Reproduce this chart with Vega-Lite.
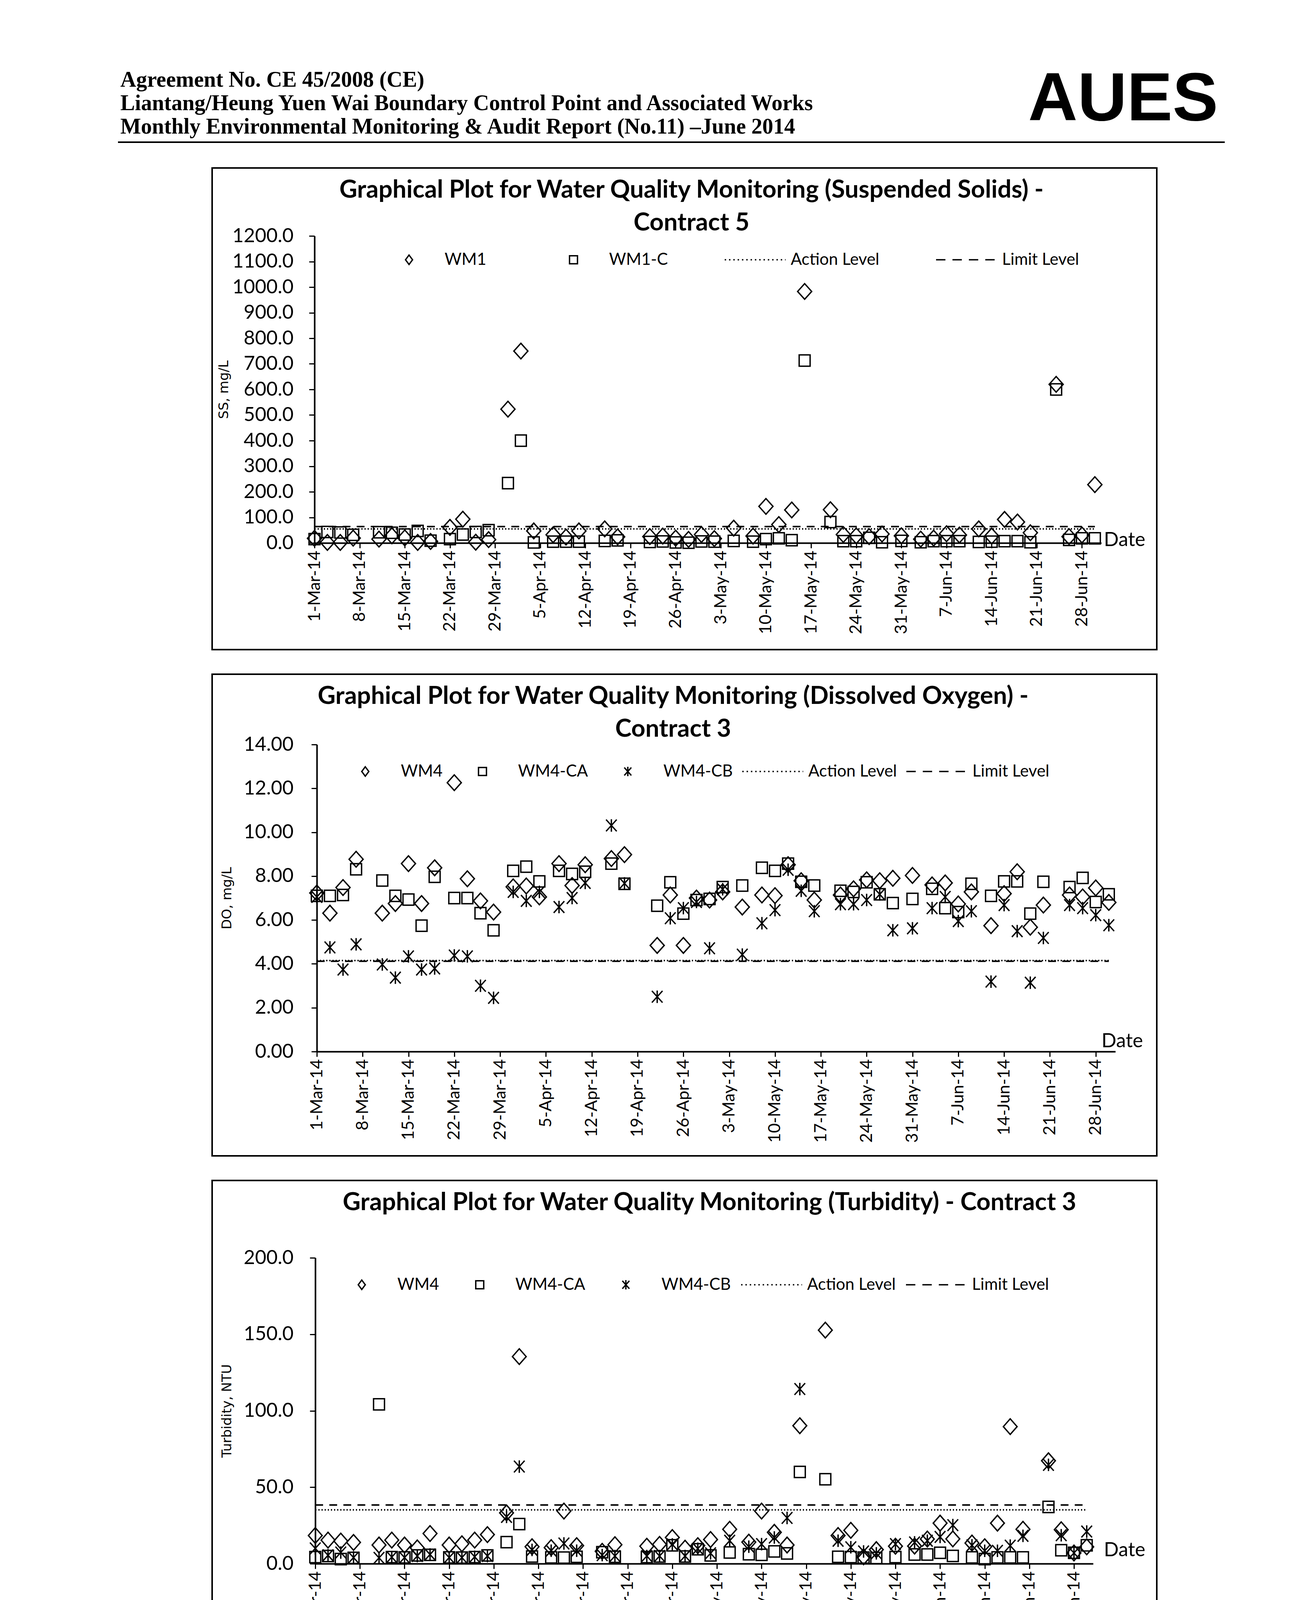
{
"$schema": "https://vega.github.io/schema/vega-lite/v6.json",
"background": "white",
"padding": {"left": 302, "top": 168, "right": 20, "bottom": 10},
"spacing": 62,
"config": {"view": {"stroke": null}, "title": {"color": "black"}, "axis": {"labelColor": "black", "titleColor": "black", "domainColor": "black", "tickColor": "black", "grid": false, "labelLimit": 0}, "legend": {"labelColor": "black"}},
"datasets": {
"ss_levels": [
{"date":"2014-03-01","series":"Action Level","value":55},{"date":"2014-06-30","series":"Action Level","value":55},
{"date":"2014-03-01","series":"Limit Level","value":64},{"date":"2014-06-30","series":"Limit Level","value":64}],
"do_levels": [
{"date":"2014-03-01","series":"Action Level","value":4.15},{"date":"2014-06-30","series":"Action Level","value":4.15},
{"date":"2014-03-01","series":"Limit Level","value":4.12},{"date":"2014-06-30","series":"Limit Level","value":4.12}],
"tb_levels": [
{"date":"2014-03-01","series":"Action Level","value":35.2},{"date":"2014-06-30","series":"Action Level","value":35.2},
{"date":"2014-03-01","series":"Limit Level","value":38.4},{"date":"2014-06-30","series":"Limit Level","value":38.4}],
"ss": [
{"date":"2014-03-01","station":"WM1","value":18},{"date":"2014-03-01","station":"WM1-C","value":15},
{"date":"2014-03-03","station":"WM1","value":2},{"date":"2014-03-03","station":"WM1-C","value":43},
{"date":"2014-03-05","station":"WM1","value":2},{"date":"2014-03-05","station":"WM1-C","value":41},
{"date":"2014-03-07","station":"WM1","value":19},{"date":"2014-03-07","station":"WM1-C","value":32},
{"date":"2014-03-11","station":"WM1","value":15},{"date":"2014-03-11","station":"WM1-C","value":42},
{"date":"2014-03-13","station":"WM1","value":28},{"date":"2014-03-13","station":"WM1-C","value":40},
{"date":"2014-03-15","station":"WM1","value":20},{"date":"2014-03-15","station":"WM1-C","value":33},
{"date":"2014-03-17","station":"WM1","value":2},{"date":"2014-03-17","station":"WM1-C","value":47},
{"date":"2014-03-19","station":"WM1","value":6},{"date":"2014-03-19","station":"WM1-C","value":9},
{"date":"2014-03-22","station":"WM1","value":61},{"date":"2014-03-22","station":"WM1-C","value":15},
{"date":"2014-03-24","station":"WM1","value":93},{"date":"2014-03-24","station":"WM1-C","value":33},
{"date":"2014-03-26","station":"WM1","value":3},{"date":"2014-03-26","station":"WM1-C","value":43},
{"date":"2014-03-28","station":"WM1","value":13},{"date":"2014-03-28","station":"WM1-C","value":50},
{"date":"2014-03-31","station":"WM1","value":523},{"date":"2014-03-31","station":"WM1-C","value":234},
{"date":"2014-04-02","station":"WM1","value":750},{"date":"2014-04-02","station":"WM1-C","value":400},
{"date":"2014-04-04","station":"WM1","value":47},{"date":"2014-04-04","station":"WM1-C","value":2},
{"date":"2014-04-07","station":"WM1","value":32},{"date":"2014-04-07","station":"WM1-C","value":5},
{"date":"2014-04-09","station":"WM1","value":23},{"date":"2014-04-09","station":"WM1-C","value":5},
{"date":"2014-04-11","station":"WM1","value":47},{"date":"2014-04-11","station":"WM1-C","value":5},
{"date":"2014-04-15","station":"WM1","value":55},{"date":"2014-04-15","station":"WM1-C","value":8},
{"date":"2014-04-17","station":"WM1","value":24},{"date":"2014-04-17","station":"WM1-C","value":10},
{"date":"2014-04-22","station":"WM1","value":25},{"date":"2014-04-22","station":"WM1-C","value":4},
{"date":"2014-04-24","station":"WM1","value":27},{"date":"2014-04-24","station":"WM1-C","value":6},
{"date":"2014-04-26","station":"WM1","value":19},{"date":"2014-04-26","station":"WM1-C","value":2},
{"date":"2014-04-28","station":"WM1","value":14},{"date":"2014-04-28","station":"WM1-C","value":1},
{"date":"2014-04-30","station":"WM1","value":33},{"date":"2014-04-30","station":"WM1-C","value":6},
{"date":"2014-05-02","station":"WM1","value":17},{"date":"2014-05-02","station":"WM1-C","value":5},
{"date":"2014-05-05","station":"WM1","value":58},{"date":"2014-05-05","station":"WM1-C","value":8},
{"date":"2014-05-08","station":"WM1","value":27},{"date":"2014-05-08","station":"WM1-C","value":5},
{"date":"2014-05-10","station":"WM1","value":143},{"date":"2014-05-10","station":"WM1-C","value":15},
{"date":"2014-05-12","station":"WM1","value":72},{"date":"2014-05-12","station":"WM1-C","value":18},
{"date":"2014-05-14","station":"WM1","value":129},{"date":"2014-05-14","station":"WM1-C","value":11},
{"date":"2014-05-16","station":"WM1","value":983},{"date":"2014-05-16","station":"WM1-C","value":713},
{"date":"2014-05-20","station":"WM1","value":130},{"date":"2014-05-20","station":"WM1-C","value":82},
{"date":"2014-05-22","station":"WM1","value":33},{"date":"2014-05-22","station":"WM1-C","value":7},
{"date":"2014-05-24","station":"WM1","value":28},{"date":"2014-05-24","station":"WM1-C","value":7},
{"date":"2014-05-26","station":"WM1","value":25},{"date":"2014-05-26","station":"WM1-C","value":20},
{"date":"2014-05-28","station":"WM1","value":35},{"date":"2014-05-28","station":"WM1-C","value":3},
{"date":"2014-05-31","station":"WM1","value":28},{"date":"2014-05-31","station":"WM1-C","value":8},
{"date":"2014-06-03","station":"WM1","value":15},{"date":"2014-06-03","station":"WM1-C","value":3},
{"date":"2014-06-05","station":"WM1","value":19},{"date":"2014-06-05","station":"WM1-C","value":7},
{"date":"2014-06-07","station":"WM1","value":36},{"date":"2014-06-07","station":"WM1-C","value":7},
{"date":"2014-06-09","station":"WM1","value":31},{"date":"2014-06-09","station":"WM1-C","value":7},
{"date":"2014-06-12","station":"WM1","value":55},{"date":"2014-06-12","station":"WM1-C","value":4},
{"date":"2014-06-14","station":"WM1","value":27},{"date":"2014-06-14","station":"WM1-C","value":5},
{"date":"2014-06-16","station":"WM1","value":92},{"date":"2014-06-16","station":"WM1-C","value":7},
{"date":"2014-06-18","station":"WM1","value":82},{"date":"2014-06-18","station":"WM1-C","value":7},
{"date":"2014-06-20","station":"WM1","value":40},{"date":"2014-06-20","station":"WM1-C","value":3},
{"date":"2014-06-24","station":"WM1","value":620},{"date":"2014-06-24","station":"WM1-C","value":600},
{"date":"2014-06-26","station":"WM1","value":25},{"date":"2014-06-26","station":"WM1-C","value":12},
{"date":"2014-06-28","station":"WM1","value":31},{"date":"2014-06-28","station":"WM1-C","value":18},
{"date":"2014-06-30","station":"WM1","value":228},{"date":"2014-06-30","station":"WM1-C","value":18}],
"do": [
{"date":"2014-03-01","station":"WM4","value":7.23},{"date":"2014-03-01","station":"WM4-CA","value":7.1},{"date":"2014-03-01","station":"WM4-CB","value":7.05},
{"date":"2014-03-03","station":"WM4","value":6.31},{"date":"2014-03-03","station":"WM4-CA","value":7.1},{"date":"2014-03-03","station":"WM4-CB","value":4.75},
{"date":"2014-03-05","station":"WM4","value":7.48},{"date":"2014-03-05","station":"WM4-CA","value":7.14},{"date":"2014-03-05","station":"WM4-CB","value":3.74},
{"date":"2014-03-07","station":"WM4","value":8.77},{"date":"2014-03-07","station":"WM4-CA","value":8.31},{"date":"2014-03-07","station":"WM4-CB","value":4.89},
{"date":"2014-03-11","station":"WM4","value":6.31},{"date":"2014-03-11","station":"WM4-CA","value":7.8},{"date":"2014-03-11","station":"WM4-CB","value":3.97},
{"date":"2014-03-13","station":"WM4","value":6.75},{"date":"2014-03-13","station":"WM4-CA","value":7.1},{"date":"2014-03-13","station":"WM4-CB","value":3.37},
{"date":"2014-03-15","station":"WM4","value":8.57},{"date":"2014-03-15","station":"WM4-CA","value":6.93},{"date":"2014-03-15","station":"WM4-CB","value":4.34},
{"date":"2014-03-17","station":"WM4","value":6.75},{"date":"2014-03-17","station":"WM4-CA","value":5.74},{"date":"2014-03-17","station":"WM4-CB","value":3.74},
{"date":"2014-03-19","station":"WM4","value":8.38},{"date":"2014-03-19","station":"WM4-CA","value":7.97},{"date":"2014-03-19","station":"WM4-CB","value":3.79},
{"date":"2014-03-22","station":"WM4","value":12.26},{"date":"2014-03-22","station":"WM4-CA","value":7.0},{"date":"2014-03-22","station":"WM4-CB","value":4.38},
{"date":"2014-03-24","station":"WM4","value":7.88},{"date":"2014-03-24","station":"WM4-CA","value":7.0},{"date":"2014-03-24","station":"WM4-CB","value":4.34},
{"date":"2014-03-26","station":"WM4","value":6.87},{"date":"2014-03-26","station":"WM4-CA","value":6.31},{"date":"2014-03-26","station":"WM4-CB","value":3.0},
{"date":"2014-03-28","station":"WM4","value":6.36},{"date":"2014-03-28","station":"WM4-CA","value":5.53},{"date":"2014-03-28","station":"WM4-CB","value":2.45},
{"date":"2014-03-31","station":"WM4","value":7.51},{"date":"2014-03-31","station":"WM4-CA","value":8.24},{"date":"2014-03-31","station":"WM4-CB","value":7.28},
{"date":"2014-04-02","station":"WM4","value":7.55},{"date":"2014-04-02","station":"WM4-CA","value":8.43},{"date":"2014-04-02","station":"WM4-CB","value":6.87},
{"date":"2014-04-04","station":"WM4","value":7.05},{"date":"2014-04-04","station":"WM4-CA","value":7.76},{"date":"2014-04-04","station":"WM4-CB","value":7.28},
{"date":"2014-04-07","station":"WM4","value":8.57},{"date":"2014-04-07","station":"WM4-CA","value":8.24},{"date":"2014-04-07","station":"WM4-CB","value":6.59},
{"date":"2014-04-09","station":"WM4","value":7.57},{"date":"2014-04-09","station":"WM4-CA","value":8.1},{"date":"2014-04-09","station":"WM4-CB","value":7.0},
{"date":"2014-04-11","station":"WM4","value":8.52},{"date":"2014-04-11","station":"WM4-CA","value":8.2},{"date":"2014-04-11","station":"WM4-CB","value":7.69},
{"date":"2014-04-15","station":"WM4","value":8.8},{"date":"2014-04-15","station":"WM4-CA","value":8.57},{"date":"2014-04-15","station":"WM4-CB","value":10.31},
{"date":"2014-04-17","station":"WM4","value":8.98},{"date":"2014-04-17","station":"WM4-CA","value":7.65},{"date":"2014-04-17","station":"WM4-CB","value":7.67},
{"date":"2014-04-22","station":"WM4","value":4.84},{"date":"2014-04-22","station":"WM4-CA","value":6.65},{"date":"2014-04-22","station":"WM4-CB","value":2.5},
{"date":"2014-04-24","station":"WM4","value":7.14},{"date":"2014-04-24","station":"WM4-CA","value":7.72},{"date":"2014-04-24","station":"WM4-CB","value":6.08},
{"date":"2014-04-26","station":"WM4","value":4.84},{"date":"2014-04-26","station":"WM4-CA","value":6.29},{"date":"2014-04-26","station":"WM4-CB","value":6.54},
{"date":"2014-04-28","station":"WM4","value":7.0},{"date":"2014-04-28","station":"WM4-CA","value":6.91},{"date":"2014-04-28","station":"WM4-CB","value":6.82},
{"date":"2014-04-30","station":"WM4","value":6.91},{"date":"2014-04-30","station":"WM4-CA","value":6.96},{"date":"2014-04-30","station":"WM4-CB","value":4.71},
{"date":"2014-05-02","station":"WM4","value":7.28},{"date":"2014-05-02","station":"WM4-CA","value":7.5},{"date":"2014-05-02","station":"WM4-CB","value":7.4},
{"date":"2014-05-05","station":"WM4","value":6.59},{"date":"2014-05-05","station":"WM4-CA","value":7.57},{"date":"2014-05-05","station":"WM4-CB","value":4.42},
{"date":"2014-05-08","station":"WM4","value":7.14},{"date":"2014-05-08","station":"WM4-CA","value":8.38},{"date":"2014-05-08","station":"WM4-CB","value":5.85},
{"date":"2014-05-10","station":"WM4","value":7.11},{"date":"2014-05-10","station":"WM4-CA","value":8.24},{"date":"2014-05-10","station":"WM4-CB","value":6.45},
{"date":"2014-05-12","station":"WM4","value":8.52},{"date":"2014-05-12","station":"WM4-CA","value":8.57},{"date":"2014-05-12","station":"WM4-CB","value":8.29},
{"date":"2014-05-14","station":"WM4","value":7.79},{"date":"2014-05-14","station":"WM4-CA","value":7.74},{"date":"2014-05-14","station":"WM4-CB","value":7.33},
{"date":"2014-05-16","station":"WM4","value":6.91},{"date":"2014-05-16","station":"WM4-CA","value":7.57},{"date":"2014-05-16","station":"WM4-CB","value":6.4},
{"date":"2014-05-20","station":"WM4","value":7.14},{"date":"2014-05-20","station":"WM4-CA","value":7.33},{"date":"2014-05-20","station":"WM4-CB","value":6.72},
{"date":"2014-05-22","station":"WM4","value":7.42},{"date":"2014-05-22","station":"WM4-CA","value":7.28},{"date":"2014-05-22","station":"WM4-CB","value":6.72},
{"date":"2014-05-24","station":"WM4","value":7.83},{"date":"2014-05-24","station":"WM4-CA","value":7.72},{"date":"2014-05-24","station":"WM4-CB","value":6.91},
{"date":"2014-05-26","station":"WM4","value":7.79},{"date":"2014-05-26","station":"WM4-CA","value":7.17},{"date":"2014-05-26","station":"WM4-CB","value":7.17},
{"date":"2014-05-28","station":"WM4","value":7.9},{"date":"2014-05-28","station":"WM4-CA","value":6.77},{"date":"2014-05-28","station":"WM4-CB","value":5.53},
{"date":"2014-05-31","station":"WM4","value":8.03},{"date":"2014-05-31","station":"WM4-CA","value":6.96},{"date":"2014-05-31","station":"WM4-CB","value":5.62},
{"date":"2014-06-03","station":"WM4","value":7.6},{"date":"2014-06-03","station":"WM4-CA","value":7.42},{"date":"2014-06-03","station":"WM4-CB","value":6.54},
{"date":"2014-06-05","station":"WM4","value":7.69},{"date":"2014-06-05","station":"WM4-CA","value":6.54},{"date":"2014-06-05","station":"WM4-CB","value":7.05},
{"date":"2014-06-07","station":"WM4","value":6.73},{"date":"2014-06-07","station":"WM4-CA","value":6.36},{"date":"2014-06-07","station":"WM4-CB","value":5.95},
{"date":"2014-06-09","station":"WM4","value":7.28},{"date":"2014-06-09","station":"WM4-CA","value":7.65},{"date":"2014-06-09","station":"WM4-CB","value":6.4},
{"date":"2014-06-12","station":"WM4","value":5.74},{"date":"2014-06-12","station":"WM4-CA","value":7.1},{"date":"2014-06-12","station":"WM4-CB","value":3.19},
{"date":"2014-06-14","station":"WM4","value":7.2},{"date":"2014-06-14","station":"WM4-CA","value":7.76},{"date":"2014-06-14","station":"WM4-CB","value":6.68},
{"date":"2014-06-16","station":"WM4","value":8.2},{"date":"2014-06-16","station":"WM4-CA","value":7.76},{"date":"2014-06-16","station":"WM4-CB","value":5.49},
{"date":"2014-06-18","station":"WM4","value":5.67},{"date":"2014-06-18","station":"WM4-CA","value":6.29},{"date":"2014-06-18","station":"WM4-CB","value":3.14},
{"date":"2014-06-20","station":"WM4","value":6.68},{"date":"2014-06-20","station":"WM4-CA","value":7.74},{"date":"2014-06-20","station":"WM4-CB","value":5.18},
{"date":"2014-06-24","station":"WM4","value":7.14},{"date":"2014-06-24","station":"WM4-CA","value":7.5},{"date":"2014-06-24","station":"WM4-CB","value":6.68},
{"date":"2014-06-26","station":"WM4","value":7.05},{"date":"2014-06-26","station":"WM4-CA","value":7.92},{"date":"2014-06-26","station":"WM4-CB","value":6.54},
{"date":"2014-06-28","station":"WM4","value":7.46},{"date":"2014-06-28","station":"WM4-CA","value":6.82},{"date":"2014-06-28","station":"WM4-CB","value":6.22},
{"date":"2014-06-30","station":"WM4","value":6.8},{"date":"2014-06-30","station":"WM4-CA","value":7.17},{"date":"2014-06-30","station":"WM4-CB","value":5.76}],
"tb": [
{"date":"2014-03-01","station":"WM4","value":18.4},{"date":"2014-03-01","station":"WM4-CA","value":4.3},{"date":"2014-03-01","station":"WM4-CB","value":10},
{"date":"2014-03-03","station":"WM4","value":15.4},{"date":"2014-03-03","station":"WM4-CA","value":5},{"date":"2014-03-03","station":"WM4-CB","value":5.5},
{"date":"2014-03-05","station":"WM4","value":14.8},{"date":"2014-03-05","station":"WM4-CA","value":3},{"date":"2014-03-05","station":"WM4-CB","value":7.3},
{"date":"2014-03-07","station":"WM4","value":13.9},{"date":"2014-03-07","station":"WM4-CA","value":3.8},{"date":"2014-03-07","station":"WM4-CB","value":4},
{"date":"2014-03-11","station":"WM4","value":12.2},{"date":"2014-03-11","station":"WM4-CA","value":104.2},{"date":"2014-03-11","station":"WM4-CB","value":3.8},
{"date":"2014-03-13","station":"WM4","value":15.4},{"date":"2014-03-13","station":"WM4-CA","value":4.3},{"date":"2014-03-13","station":"WM4-CB","value":4.3},
{"date":"2014-03-15","station":"WM4","value":12.2},{"date":"2014-03-15","station":"WM4-CA","value":4.1},{"date":"2014-03-15","station":"WM4-CB","value":4},
{"date":"2014-03-17","station":"WM4","value":10.3},{"date":"2014-03-17","station":"WM4-CA","value":5.4},{"date":"2014-03-17","station":"WM4-CB","value":5},
{"date":"2014-03-19","station":"WM4","value":19.7},{"date":"2014-03-19","station":"WM4-CA","value":5.8},{"date":"2014-03-19","station":"WM4-CB","value":6},
{"date":"2014-03-22","station":"WM4","value":12.2},{"date":"2014-03-22","station":"WM4-CA","value":4.1},{"date":"2014-03-22","station":"WM4-CB","value":4},
{"date":"2014-03-24","station":"WM4","value":13},{"date":"2014-03-24","station":"WM4-CA","value":4},{"date":"2014-03-24","station":"WM4-CB","value":4},
{"date":"2014-03-26","station":"WM4","value":15.4},{"date":"2014-03-26","station":"WM4-CA","value":4.3},{"date":"2014-03-26","station":"WM4-CB","value":4.5},
{"date":"2014-03-28","station":"WM4","value":19},{"date":"2014-03-28","station":"WM4-CA","value":5.4},{"date":"2014-03-28","station":"WM4-CB","value":5},
{"date":"2014-03-31","station":"WM4","value":33.2},{"date":"2014-03-31","station":"WM4-CA","value":14.1},{"date":"2014-03-31","station":"WM4-CB","value":30.6},
{"date":"2014-04-02","station":"WM4","value":135.4},{"date":"2014-04-02","station":"WM4-CA","value":25.9},{"date":"2014-04-02","station":"WM4-CB","value":63.5},
{"date":"2014-04-04","station":"WM4","value":11.1},{"date":"2014-04-04","station":"WM4-CA","value":4.7},{"date":"2014-04-04","station":"WM4-CB","value":9},
{"date":"2014-04-07","station":"WM4","value":10.5},{"date":"2014-04-07","station":"WM4-CA","value":4.1},{"date":"2014-04-07","station":"WM4-CB","value":8.5},
{"date":"2014-04-09","station":"WM4","value":34.4},{"date":"2014-04-09","station":"WM4-CA","value":4},{"date":"2014-04-09","station":"WM4-CB","value":13.2},
{"date":"2014-04-11","station":"WM4","value":11.8},{"date":"2014-04-11","station":"WM4-CA","value":4.5},{"date":"2014-04-11","station":"WM4-CB","value":8.5},
{"date":"2014-04-15","station":"WM4","value":8.1},{"date":"2014-04-15","station":"WM4-CA","value":7.5},{"date":"2014-04-15","station":"WM4-CB","value":5.6},
{"date":"2014-04-17","station":"WM4","value":12.4},{"date":"2014-04-17","station":"WM4-CA","value":4.5},{"date":"2014-04-17","station":"WM4-CB","value":5},
{"date":"2014-04-22","station":"WM4","value":11.4},{"date":"2014-04-22","station":"WM4-CA","value":4.3},{"date":"2014-04-22","station":"WM4-CB","value":5},
{"date":"2014-04-24","station":"WM4","value":12.6},{"date":"2014-04-24","station":"WM4-CA","value":4.7},{"date":"2014-04-24","station":"WM4-CB","value":5},
{"date":"2014-04-26","station":"WM4","value":17.1},{"date":"2014-04-26","station":"WM4-CA","value":12},{"date":"2014-04-26","station":"WM4-CB","value":12.6},
{"date":"2014-04-28","station":"WM4","value":10.1},{"date":"2014-04-28","station":"WM4-CA","value":4.7},{"date":"2014-04-28","station":"WM4-CB","value":5},
{"date":"2014-04-30","station":"WM4","value":11.8},{"date":"2014-04-30","station":"WM4-CA","value":9.4},{"date":"2014-04-30","station":"WM4-CB","value":9.8},
{"date":"2014-05-02","station":"WM4","value":15.8},{"date":"2014-05-02","station":"WM4-CA","value":5.4},{"date":"2014-05-02","station":"WM4-CB","value":6.8},
{"date":"2014-05-05","station":"WM4","value":22.5},{"date":"2014-05-05","station":"WM4-CA","value":7.3},{"date":"2014-05-05","station":"WM4-CB","value":15},
{"date":"2014-05-08","station":"WM4","value":14.1},{"date":"2014-05-08","station":"WM4-CA","value":6.2},{"date":"2014-05-08","station":"WM4-CB","value":11.1},
{"date":"2014-05-10","station":"WM4","value":34.4},{"date":"2014-05-10","station":"WM4-CA","value":5.8},{"date":"2014-05-10","station":"WM4-CB","value":12.8},
{"date":"2014-05-12","station":"WM4","value":20.5},{"date":"2014-05-12","station":"WM4-CA","value":8},{"date":"2014-05-12","station":"WM4-CB","value":17.1},
{"date":"2014-05-14","station":"WM4","value":12.2},{"date":"2014-05-14","station":"WM4-CA","value":6.7},{"date":"2014-05-14","station":"WM4-CB","value":29.9},
{"date":"2014-05-16","station":"WM4","value":90.2},{"date":"2014-05-16","station":"WM4-CA","value":60},{"date":"2014-05-16","station":"WM4-CB","value":114.2},
{"date":"2014-05-20","station":"WM4","value":152.7},{"date":"2014-05-20","station":"WM4-CA","value":55.2},
{"date":"2014-05-22","station":"WM4","value":18.4},{"date":"2014-05-22","station":"WM4-CA","value":4.5},{"date":"2014-05-22","station":"WM4-CB","value":15},
{"date":"2014-05-24","station":"WM4","value":21.8},{"date":"2014-05-24","station":"WM4-CA","value":4.3},{"date":"2014-05-24","station":"WM4-CB","value":10.7},
{"date":"2014-05-26","station":"WM4","value":4.5},{"date":"2014-05-26","station":"WM4-CA","value":4},{"date":"2014-05-26","station":"WM4-CB","value":8},
{"date":"2014-05-28","station":"WM4","value":9.2},{"date":"2014-05-28","station":"WM4-CA","value":3.7},{"date":"2014-05-28","station":"WM4-CB","value":6.8},
{"date":"2014-05-31","station":"WM4","value":11.4},{"date":"2014-05-31","station":"WM4-CA","value":4.3},{"date":"2014-05-31","station":"WM4-CB","value":12.8},
{"date":"2014-06-03","station":"WM4","value":11.5},{"date":"2014-06-03","station":"WM4-CA","value":6},{"date":"2014-06-03","station":"WM4-CB","value":13.9},
{"date":"2014-06-05","station":"WM4","value":16.1},{"date":"2014-06-05","station":"WM4-CA","value":6},{"date":"2014-06-05","station":"WM4-CB","value":15},
{"date":"2014-06-07","station":"WM4","value":26.5},{"date":"2014-06-07","station":"WM4-CA","value":7.1},{"date":"2014-06-07","station":"WM4-CB","value":17.5},
{"date":"2014-06-09","station":"WM4","value":16.2},{"date":"2014-06-09","station":"WM4-CA","value":5.1},{"date":"2014-06-09","station":"WM4-CB","value":25.2},
{"date":"2014-06-12","station":"WM4","value":13.5},{"date":"2014-06-12","station":"WM4-CA","value":4.1},{"date":"2014-06-12","station":"WM4-CB","value":12},
{"date":"2014-06-14","station":"WM4","value":11.1},{"date":"2014-06-14","station":"WM4-CA","value":3},{"date":"2014-06-14","station":"WM4-CB","value":8.4},
{"date":"2014-06-16","station":"WM4","value":26.5},{"date":"2014-06-16","station":"WM4-CA","value":4.1},{"date":"2014-06-16","station":"WM4-CB","value":8.4},
{"date":"2014-06-18","station":"WM4","value":89.6},{"date":"2014-06-18","station":"WM4-CA","value":4.1},{"date":"2014-06-18","station":"WM4-CB","value":11.8},
{"date":"2014-06-20","station":"WM4","value":22.5},{"date":"2014-06-20","station":"WM4-CA","value":4.1},{"date":"2014-06-20","station":"WM4-CB","value":18.2},
{"date":"2014-06-24","station":"WM4","value":67.3},{"date":"2014-06-24","station":"WM4-CA","value":37.1},{"date":"2014-06-24","station":"WM4-CB","value":64.6},
{"date":"2014-06-26","station":"WM4","value":22.2},{"date":"2014-06-26","station":"WM4-CA","value":8.8},{"date":"2014-06-26","station":"WM4-CB","value":18.6},
{"date":"2014-06-28","station":"WM4","value":7},{"date":"2014-06-28","station":"WM4-CA","value":7.1},{"date":"2014-06-28","station":"WM4-CB","value":7},
{"date":"2014-06-30","station":"WM4","value":11},{"date":"2014-06-30","station":"WM4-CA","value":12},{"date":"2014-06-30","station":"WM4-CB","value":21}]
},
"vconcat": [
{
 "hconcat": [
  {"width": 2000, "height": 4, "data": {"values": []}, "mark": "point", "view": {"fill": "black", "stroke": null},
   "title": {"text": ["Agreement No. CE 45/2008 (CE)", "Liantang/Heung Yuen Wai Boundary Control Point and Associated Works", "Monthly Environmental Monitoring & Audit Report (No.11) \u2013June 2014"], "anchor": "start", "frame": "group", "font": "Liberation Serif", "fontSize": 56, "fontWeight": "bold", "lineHeight": 60, "offset": 8, "dx": 6, "color": "black"}},
  {"width": 833, "height": 4, "data": {"values": []}, "mark": "point", "view": {"fill": "black", "stroke": null},
   "title": {"text": "AUES", "anchor": "end", "frame": "group", "font": "Liberation Sans", "fontSize": 175, "fontWeight": "bold", "offset": 17, "dx": -17, "color": "black"}}
 ],
 "spacing": 0, "bounds": "flush"
},
{
 "hconcat": [
  {"width": 1, "height": 1, "data": {"values": []}, "mark": "point"},
  {
   "vconcat": [
    {
     "width": 2418, "height": 1233,
     "view": {"stroke": "black", "strokeWidth": 4},
     "title": {"text": ["Graphical Plot for Water Quality Monitoring (Suspended Solids) -", "Contract 5"], "font": "Lato", "fontSize": 63, "fontWeight": "bold", "lineHeight": 84, "anchor": "middle", "frame": "group", "offset": -173, "dx": 18, "color": "black"},
     "layer": [
      {"data": {"name": "ss_levels"}, "mark": {"type": "line", "color": "black", "strokeWidth": 4},
       "encoding": {
        "x": {"field": "date", "type": "temporal",
              "scale": {"type": "utc", "domain": [{"year":2014,"month":3,"date":1,"utc":true},{"year":2014,"month":7,"date":1,"utc":true}], "range": [262, 2276], "nice": false},
              "axis": {"values": [{"year":2014,"month":3,"date":1,"utc":true},{"year":2014,"month":3,"date":8,"utc":true},{"year":2014,"month":3,"date":15,"utc":true},{"year":2014,"month":3,"date":22,"utc":true},{"year":2014,"month":3,"date":29,"utc":true},{"year":2014,"month":4,"date":5,"utc":true},{"year":2014,"month":4,"date":12,"utc":true},{"year":2014,"month":4,"date":19,"utc":true},{"year":2014,"month":4,"date":26,"utc":true},{"year":2014,"month":5,"date":3,"utc":true},{"year":2014,"month":5,"date":10,"utc":true},{"year":2014,"month":5,"date":17,"utc":true},{"year":2014,"month":5,"date":24,"utc":true},{"year":2014,"month":5,"date":31,"utc":true},{"year":2014,"month":6,"date":7,"utc":true},{"year":2014,"month":6,"date":14,"utc":true},{"year":2014,"month":6,"date":21,"utc":true},{"year":2014,"month":6,"date":28,"utc":true}],
                       "labelExpr": "utcFormat(datum.value, '%-d-%b-%y')", "labelLimit": 0, "labelAngle": -90, "labelFont": "Lato", "labelFontSize": 43, "labelPadding": 6, "labelFlush": false, "labelOverlap": false, "labelBound": false,
                       "tickSize": 13, "tickWidth": 3, "domainWidth": 4, "offset": -273, "grid": false,
                       "title": "Date", "titleFont": "Lato", "titleFontSize": 50, "titleFontWeight": "normal", "titleAngle": 0, "titleAlign": "left", "titleBaseline": "middle", "titleX": 2282, "titleY": -8}},
        "y": {"field": "value", "type": "quantitative",
              "scale": {"domain": [0, 1200], "range": [960, 174], "nice": false, "zero": false},
              "axis": {"values": [0,100,200,300,400,500,600,700,800,900,1000,1100,1200], "format": ".1f", "labelFont": "Lato", "labelFontSize": 50, "labelPadding": 40, "labelOverlap": false, "labelFlush": false,
                       "tickSize": 14, "tickWidth": 3, "domainWidth": 4, "offset": -262, "grid": false,
                       "title": "SS, mg/L", "titleFont": "DejaVu Sans", "titleFontSize": 34, "titleFontWeight": "normal", "titlePadding": 15}},
        "strokeDash": {"field": "series", "type": "nominal", "scale": {"domain": ["Action Level", "Limit Level"], "range": [[3, 5], [20, 16]]}, "legend": null}
       }},
      {"data": {"name": "ss"}, "mark": {"type": "point", "filled": false, "color": "black", "strokeWidth": 3.5, "size": 1600, "opacity": 1},
       "encoding": {
        "x": {"field": "date", "type": "temporal"},
        "y": {"field": "value", "type": "quantitative"},
        "shape": {"field": "station", "type": "nominal", "scale": {"domain": ["WM1", "WM1-C"], "range": ["M0,-1L0.9,0L0,1L-0.9,0Z", "M-0.7,-0.72L0.7,-0.72L0.7,0.72L-0.7,0.72Z"]}, "legend": null}
       }},
      {"data": {"values": []}, "mark": {"type": "point", "filled": false, "color": "black", "opacity": 1},
       "encoding": {
        "shape": {"field": "series", "type": "nominal",
                  "scale": {"domain": ["WM1", "WM1-C", "Action Level", "Limit Level"],
                            "range": ["M-11.5,0M1.5,0M-5,-1L-4.25,0L-5,1L-5.75,0Z", "M-11.5,0M1.5,0M-5.85,-0.85L-4.15,-0.85L-4.15,0.85L-5.85,0.85Z", "M-11.5,0h0.3M-10.58,0h0.3M-9.66,0h0.3M-8.74,0h0.3M-7.82,0h0.3M-6.9,0h0.3M-5.98,0h0.3M-5.06,0h0.3M-4.14,0h0.3M-3.22,0h0.3M-2.3,0h0.3M-1.38,0h0.3M-0.46,0h0.3M0.46,0h0.3M1.38,0h0.12", "M-11.5,0h2M-8,0h2M-4.5,0h2M-1,0h2M1.5,0"]},
                  "legend": {"orient": "none", "legendX": 543, "legendY": 214, "direction": "horizontal", "title": null, "labelFont": "Lato", "labelFontSize": 42, "labelOffset": 10, "labelLimit": 0, "symbolSize": 576, "symbolStrokeWidth": 3.5, "symbolStrokeColor": "black", "symbolFillColor": "transparent", "columnPadding": 138, "padding": 0}}
       }}
     ],
     "resolve": {"scale": {"shape": "independent"}}
    },
    {
     "width": 2418, "height": 1233,
     "view": {"stroke": "black", "strokeWidth": 4},
     "title": {"text": ["Graphical Plot for Water Quality Monitoring (Dissolved Oxygen) -", "Contract 3"], "font": "Lato", "fontSize": 63, "fontWeight": "bold", "lineHeight": 84, "anchor": "middle", "frame": "group", "offset": -173, "dx": -29, "color": "black"},
     "layer": [
      {"data": {"name": "do_levels"}, "mark": {"type": "line", "color": "black", "strokeWidth": 4},
       "encoding": {
        "x": {"field": "date", "type": "temporal",
              "scale": {"type": "utc", "domain": [{"year":2014,"month":3,"date":1,"utc":true},{"year":2014,"month":7,"date":1,"utc":true}], "range": [268, 2312], "nice": false},
              "axis": {"values": [{"year":2014,"month":3,"date":1,"utc":true},{"year":2014,"month":3,"date":8,"utc":true},{"year":2014,"month":3,"date":15,"utc":true},{"year":2014,"month":3,"date":22,"utc":true},{"year":2014,"month":3,"date":29,"utc":true},{"year":2014,"month":4,"date":5,"utc":true},{"year":2014,"month":4,"date":12,"utc":true},{"year":2014,"month":4,"date":19,"utc":true},{"year":2014,"month":4,"date":26,"utc":true},{"year":2014,"month":5,"date":3,"utc":true},{"year":2014,"month":5,"date":10,"utc":true},{"year":2014,"month":5,"date":17,"utc":true},{"year":2014,"month":5,"date":24,"utc":true},{"year":2014,"month":5,"date":31,"utc":true},{"year":2014,"month":6,"date":7,"utc":true},{"year":2014,"month":6,"date":14,"utc":true},{"year":2014,"month":6,"date":21,"utc":true},{"year":2014,"month":6,"date":28,"utc":true}],
                       "labelExpr": "utcFormat(datum.value, '%-d-%b-%y')", "labelLimit": 0, "labelAngle": -90, "labelFont": "Lato", "labelFontSize": 43, "labelPadding": 6, "labelFlush": false, "labelOverlap": false, "labelBound": false,
                       "tickSize": 13, "tickWidth": 3, "domainWidth": 4, "offset": -267, "grid": false,
                       "title": "Date", "titleFont": "Lato", "titleFontSize": 50, "titleFontWeight": "normal", "titleAngle": 0, "titleAlign": "left", "titleBaseline": "bottom", "titleX": 2276, "titleY": -2}},
        "y": {"field": "value", "type": "quantitative",
              "scale": {"domain": [0, 14], "range": [966, 180], "nice": false, "zero": false},
              "axis": {"values": [0,2,4,6,8,10,12,14], "format": ".2f", "labelFont": "Lato", "labelFontSize": 50, "labelPadding": 46, "labelOverlap": false, "labelFlush": false,
                       "tickSize": 14, "tickWidth": 3, "domainWidth": 4, "offset": -268, "grid": false,
                       "title": "DO, mg/L", "titleFont": "DejaVu Sans", "titleFontSize": 34, "titleFontWeight": "normal", "titlePadding": 25}},
        "strokeDash": {"field": "series", "type": "nominal", "scale": {"domain": ["Action Level", "Limit Level"], "range": [[3, 5], [20, 16]]}, "legend": null}
       }},
      {"data": {"name": "do"}, "mark": {"type": "point", "filled": false, "color": "black", "strokeWidth": 3.5, "size": 1600, "opacity": 1},
       "encoding": {
        "x": {"field": "date", "type": "temporal"},
        "y": {"field": "value", "type": "quantitative"},
        "shape": {"field": "station", "type": "nominal", "scale": {"domain": ["WM4", "WM4-CA", "WM4-CB"], "range": ["M0,-1L0.9,0L0,1L-0.9,0Z", "M-0.7,-0.72L0.7,-0.72L0.7,0.72L-0.7,0.72Z", "M-0.68,-0.75L0.68,0.75M0.68,-0.75L-0.68,0.75M0,-0.8L0,0.8"]}, "legend": null}
       }},
      {"data": {"values": []}, "mark": {"type": "point", "filled": false, "color": "black", "opacity": 1},
       "encoding": {
        "shape": {"field": "series", "type": "nominal",
                  "scale": {"domain": ["WM4", "WM4-CA", "WM4-CB", "Action Level", "Limit Level"],
                            "range": ["M-11.5,0M1.5,0M-5,-1L-4.25,0L-5,1L-5.75,0Z", "M-11.5,0M1.5,0M-5.85,-0.85L-4.15,-0.85L-4.15,0.85L-5.85,0.85Z", "M-11.5,0M1.5,0M-5.75,-0.85L-4.25,0.85M-4.25,-0.85L-5.75,0.85M-5,-1L-5,1", "M-11.5,0h0.3M-10.58,0h0.3M-9.66,0h0.3M-8.74,0h0.3M-7.82,0h0.3M-6.9,0h0.3M-5.98,0h0.3M-5.06,0h0.3M-4.14,0h0.3M-3.22,0h0.3M-2.3,0h0.3M-1.38,0h0.3M-0.46,0h0.3M0.46,0h0.3M1.38,0h0.12", "M-11.5,0h2M-8,0h2M-4.5,0h2M-1,0h2M1.5,0"]},
                  "legend": {"orient": "none", "legendX": 431, "legendY": 228, "direction": "horizontal", "title": null, "labelFont": "Lato", "labelFontSize": 42, "labelOffset": 10, "labelLimit": 0, "symbolSize": 576, "symbolStrokeWidth": 3.5, "symbolStrokeColor": "black", "symbolFillColor": "transparent", "columnPadding": 17, "padding": 0}}
       }}
     ],
     "resolve": {"scale": {"shape": "independent"}}
    },
    {
     "width": 2418, "height": 1230,
     "view": {"stroke": "black", "strokeWidth": 4},
     "title": {"text": "Graphical Plot for Water Quality Monitoring (Turbidity)  - Contract 3", "font": "Lato", "fontSize": 63, "fontWeight": "bold", "anchor": "middle", "frame": "group", "offset": -89, "dx": 64, "color": "black"},
     "layer": [
      {"data": {"name": "tb_levels"}, "mark": {"type": "line", "color": "black", "strokeWidth": 4},
       "encoding": {
        "x": {"field": "date", "type": "temporal",
              "scale": {"type": "utc", "domain": [{"year":2014,"month":3,"date":1,"utc":true},{"year":2014,"month":7,"date":1,"utc":true}], "range": [264, 2255], "nice": false},
              "axis": {"values": [{"year":2014,"month":3,"date":1,"utc":true},{"year":2014,"month":3,"date":8,"utc":true},{"year":2014,"month":3,"date":15,"utc":true},{"year":2014,"month":3,"date":22,"utc":true},{"year":2014,"month":3,"date":29,"utc":true},{"year":2014,"month":4,"date":5,"utc":true},{"year":2014,"month":4,"date":12,"utc":true},{"year":2014,"month":4,"date":19,"utc":true},{"year":2014,"month":4,"date":26,"utc":true},{"year":2014,"month":5,"date":3,"utc":true},{"year":2014,"month":5,"date":10,"utc":true},{"year":2014,"month":5,"date":17,"utc":true},{"year":2014,"month":5,"date":24,"utc":true},{"year":2014,"month":5,"date":31,"utc":true},{"year":2014,"month":6,"date":7,"utc":true},{"year":2014,"month":6,"date":14,"utc":true},{"year":2014,"month":6,"date":21,"utc":true},{"year":2014,"month":6,"date":28,"utc":true}],
                       "labelExpr": "utcFormat(datum.value, '%-d-%b-%y')", "labelLimit": 0, "labelAngle": -90, "labelFont": "Lato", "labelFontSize": 43, "labelPadding": 6, "labelFlush": false, "labelOverlap": false, "labelBound": false,
                       "tickSize": 13, "tickWidth": 3, "domainWidth": 4, "offset": -249, "grid": false,
                       "title": "Date", "titleFont": "Lato", "titleFontSize": 50, "titleFontWeight": "normal", "titleAngle": 0, "titleAlign": "left", "titleBaseline": "middle", "titleX": 2282, "titleY": -35}},
        "y": {"field": "value", "type": "quantitative",
              "scale": {"domain": [0, 200], "range": [981, 198], "nice": false, "zero": false},
              "axis": {"values": [0,50,100,150,200], "format": ".1f", "labelFont": "Lato", "labelFontSize": 50, "labelPadding": 42, "labelOverlap": false, "labelFlush": false,
                       "tickSize": 14, "tickWidth": 3, "domainWidth": 4, "offset": -264, "grid": false,
                       "title": "Turbidity, NTU", "titleFont": "DejaVu Sans", "titleFontSize": 34, "titleFontWeight": "normal", "titlePadding": 25}},
        "strokeDash": {"field": "series", "type": "nominal", "scale": {"domain": ["Action Level", "Limit Level"], "range": [[3, 5], [20, 16]]}, "legend": null}
       }},
      {"data": {"name": "tb"}, "mark": {"type": "point", "filled": false, "color": "black", "strokeWidth": 3.5, "size": 1600, "opacity": 1},
       "encoding": {
        "x": {"field": "date", "type": "temporal"},
        "y": {"field": "value", "type": "quantitative"},
        "shape": {"field": "station", "type": "nominal", "scale": {"domain": ["WM4", "WM4-CA", "WM4-CB"], "range": ["M0,-1L0.88,0L0,1L-0.88,0Z", "M-0.7,-0.72L0.7,-0.72L0.7,0.72L-0.7,0.72Z", "M-0.68,-0.75L0.68,0.75M0.68,-0.75L-0.68,0.75M0,-0.8L0,0.8"]}, "legend": null}
       }},
      {"data": {"values": []}, "mark": {"type": "point", "filled": false, "color": "black", "opacity": 1},
       "encoding": {
        "shape": {"field": "series", "type": "nominal",
                  "scale": {"domain": ["WM4", "WM4-CA", "WM4-CB", "Action Level", "Limit Level"],
                            "range": ["M-11.5,0M1.5,0M-5,-1L-4.25,0L-5,1L-5.75,0Z", "M-11.5,0M1.5,0M-5.85,-0.85L-4.15,-0.85L-4.15,0.85L-5.85,0.85Z", "M-11.5,0M1.5,0M-5.75,-0.85L-4.25,0.85M-4.25,-0.85L-5.75,0.85M-5,-1L-5,1", "M-11.5,0h0.3M-10.58,0h0.3M-9.66,0h0.3M-8.74,0h0.3M-7.82,0h0.3M-6.9,0h0.3M-5.98,0h0.3M-5.06,0h0.3M-4.14,0h0.3M-3.22,0h0.3M-2.3,0h0.3M-1.38,0h0.3M-0.46,0h0.3M0.46,0h0.3M1.38,0h0.12", "M-11.5,0h2M-8,0h2M-4.5,0h2M-1,0h2M1.5,0"]},
                  "legend": {"orient": "none", "legendX": 422, "legendY": 246, "direction": "horizontal", "title": null, "labelFont": "Lato", "labelFontSize": 42, "labelOffset": 10, "labelLimit": 0, "symbolSize": 576, "symbolStrokeWidth": 3.5, "symbolStrokeColor": "black", "symbolFillColor": "transparent", "columnPadding": 19, "padding": 0}}
       }}
     ],
     "resolve": {"scale": {"shape": "independent"}}
    }
   ],
   "spacing": 63, "bounds": "flush"
  }
 ],
 "spacing": 240, "bounds": "flush"
},
{"width": 2000, "height": 240, "data": {"values": []}, "mark": "point",
 "title": {"text": "Z:\\Jobs\\2013\\TCS00670(CV201303)\\600\\EM&A Report\\Monthly EM&A Report\\11th (June 2014)\\R0195v2a.docx", "orient": "bottom", "anchor": "start", "frame": "group", "font": "Liberation Serif", "fontSize": 44, "fontWeight": "normal", "offset": 5, "dx": 79, "color": "black"}}
]
}
